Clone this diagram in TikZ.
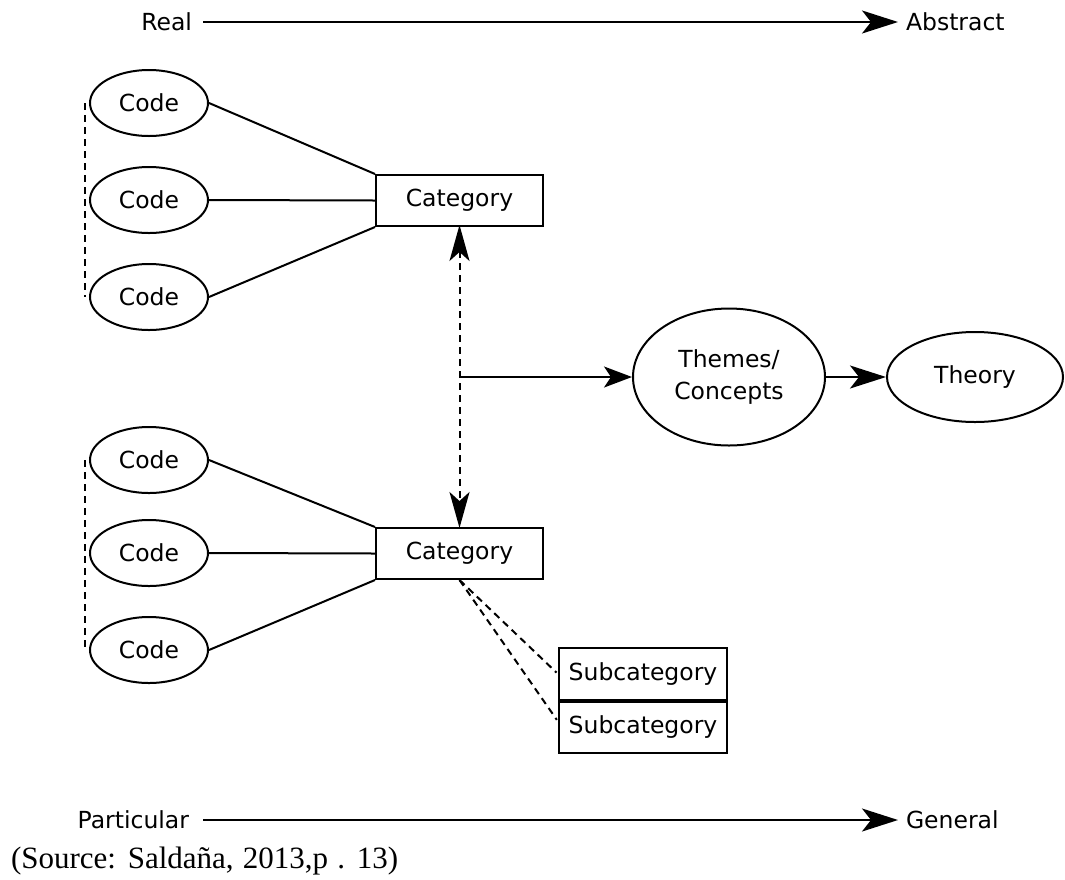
\documentclass[tikz,border=0pt]{standalone}
\usepackage{fontspec}
\setmainfont{DejaVu Sans}
\newfontfamily\srcfont{Liberation Serif}
\usetikzlibrary{arrows.meta,shapes.geometric}
\begin{document}
\begin{tikzpicture}[x=1pt,y=-1pt,
  line width=2pt,
  every node/.style={font=\fontsize{23.5}{32}\selectfont},
  tip/.style={-{Stealth[length=36pt,width=23pt,inset=9pt]}},
  stip/.style={-{Stealth[length=28pt,width=21pt,inset=7pt]}},
  dtip/.style={{Stealth[length=36pt,width=20pt,inset=9pt]}-{Stealth[length=36pt,width=20pt,inset=9pt]}},
  dsh/.style={dash pattern=on 7pt off 5pt},
  lbl/.style={inner sep=0pt, text height=17pt, text depth=0pt},
  code/.style={draw, ellipse, minimum width=118pt, minimum height=66pt, inner sep=0pt},
  catbox/.style={draw, rectangle, minimum width=167pt, minimum height=51pt, inner sep=0pt},
  subbox/.style={draw, rectangle, minimum width=168pt, minimum height=51.5pt, inner sep=0pt}
]
\useasboundingbox (0,0) rectangle (1065,879);

% scale arrows
\node[lbl, anchor=east, inner xsep=10pt] (real) at (203,22) {Real};
\node[lbl, anchor=west, inner xsep=7pt] (abstract) at (898,22) {Abstract};
\draw[tip] (real.east) -- (abstract.west);

\node[lbl, anchor=east, inner xsep=13pt] (particular) at (203,820) {Particular};
\node[lbl, anchor=west, inner xsep=7pt] (general) at (898,820) {General};
\draw[tip] (particular.east) -- (general.west);

% top group
\node[code] (c1) at (149,103) {Code};
\node[code] (c2) at (149,200) {Code};
\node[code] (c3) at (149,297) {Code};
\node[catbox] (cat1) at (459.5,200.5) {Category};
\draw (c1.east) -- (cat1.north west);
\draw (c2.east) -- (cat1.west);
\draw (c3.east) -- (cat1.south west);
\draw[dsh] ([xshift=-4pt]c1.west) -- ([xshift=-4pt]c3.west);

% bottom group
\node[code] (c4) at (149,460) {Code};
\node[code] (c5) at (149,553) {Code};
\node[code] (c6) at (149,650) {Code};
\node[catbox] (cat2) at (459.5,553.5) {Category};
\draw (c4.east) -- (cat2.north west);
\draw (c5.east) -- (cat2.west);
\draw (c6.east) -- (cat2.south west);
\draw[dsh] ([xshift=-4pt]c4.west) -- ([xshift=-4pt]c6.west);

% subcategories
\node[subbox] (sub1) at (643,674) {Subcategory};
\node[subbox, anchor=north] (sub2) at (sub1.south) {Subcategory};
\draw[dsh, shorten >=2pt] (cat2.south) -- (sub1.west);
\draw[dsh, shorten >=2pt] (cat2.south) -- ([yshift=6pt]sub2.west);

% themes and theory
\node[draw, ellipse, minimum width=192pt, minimum height=137pt, inner sep=0pt, align=center] (themes) at (729,377) {Themes/\\Concepts};
\node[draw, ellipse, minimum width=176pt, minimum height=90pt, inner sep=0pt] (theory) at (975,377) {Theory};

\draw[dsh, dtip] ([yshift=2pt]cat1.south) -- ([yshift=-1pt]cat2.north);
\coordinate (j) at (cat1.south |- themes.west);
\draw[stip] (j) -- (themes.west);
\draw[tip] (themes.east) -- (theory.west);

% source
\node[anchor=base west, inner sep=0pt, font=\srcfont\fontsize{31}{34}\selectfont] (src) at (10,868) {\spaceskip=9.2pt(Source: Saldaña, 2013,p . 13)};
\end{tikzpicture}
\end{document}
